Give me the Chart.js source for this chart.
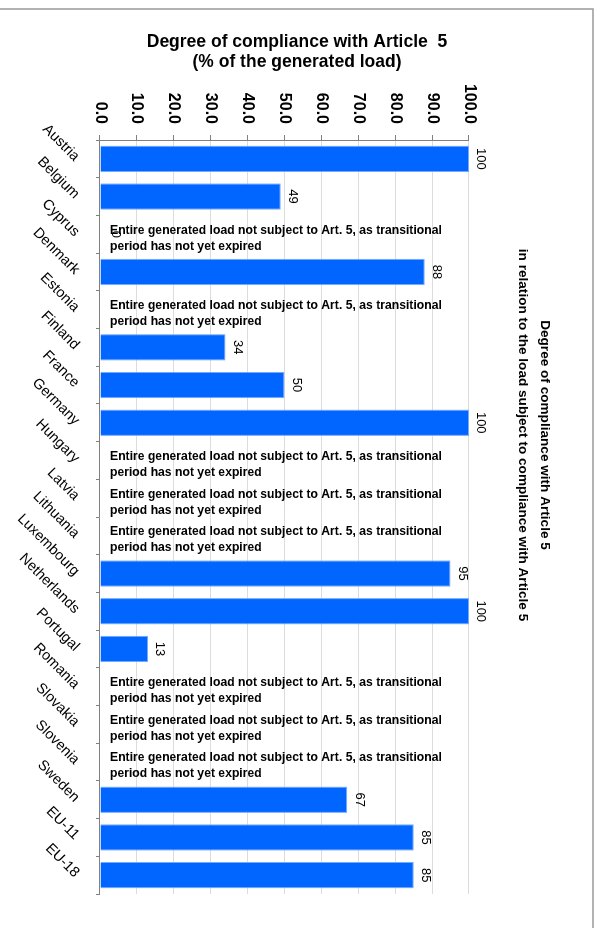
<!DOCTYPE html>
<html>
<head>
<meta charset="utf-8">
<title>Degree of compliance with Article 5</title>
<script src="https://cdn.jsdelivr.net/npm/chart.js@4.4.1/dist/chart.umd.min.js"></script>
<style>
  html, body { margin: 0; padding: 0; background: #fff; }
  body { width: 602px; height: 928px; overflow: hidden; position: relative; }
  /* chart is drawn landscape, then turned a quarter clockwise */
  #wrap {
    position: absolute; left: 0; top: 0;
    width: 928px; height: 602px;
    transform-origin: 0 0;
    transform: translate(602px, 0) rotate(90deg);
  }
</style>
</head>
<body>
<div id="wrap"><canvas id="complianceChart" width="928" height="602"></canvas></div>
<script>
// DATA
const categories = ["Austria", "Belgium", "Cyprus", "Denmark", "Estonia", "Finland", "France",
  "Germany", "Hungary", "Latvia", "Lithuania", "Luxembourg", "Netherlands", "Portugal",
  "Romania", "Slovakia", "Slovenia", "Sweden", "EU-11", "EU-18"];
const compliance = [100, 49, 0, 88, null, 34, 50, 100, null, null, null, 95, 100, 13,
  null, null, null, 67, 85, 85];
const transitional = ["Cyprus", "Estonia", "Hungary", "Latvia", "Lithuania", "Romania", "Slovakia", "Slovenia"];
const noteLines = ["Entire generated load not subject to Art. 5, as transitional", "period has not yet expired"];
const chartTitle = ["Degree of compliance with Article 5", "in relation to the load subject to compliance with Article 5"];
const axisTitle = ["Degree of compliance with Article  5", "(% of the generated load)"];

const FONT = "'Liberation Sans', Arial, sans-serif";
Chart.defaults.font.family = FONT;
Chart.defaults.color = "#000";

// FRAME, TITLES, VALUE LABELS, NOTES
const extras = {
  id: "extras",
  afterDraw(chart) {
    const ctx = chart.ctx;
    const x = chart.scales.x;
    const y = chart.scales.y;
    ctx.save();

    // frame
    ctx.strokeStyle = "#999";
    ctx.lineWidth = 1.5;
    ctx.beginPath();
    ctx.moveTo(9, 602);
    ctx.lineTo(9, 9);
    ctx.lineTo(928, 9);
    ctx.stroke();

    ctx.fillStyle = "#000";
    ctx.textAlign = "center";
    ctx.textBaseline = "middle";

    // chart title
    ctx.font = "bold 13.6px " + FONT;
    ctx.fillText(chartTitle[0], 435, 57);
    ctx.fillText(chartTitle[1], 435, 79);

    // value axis title
    ctx.save();
    ctx.translate(0, 305);
    ctx.rotate(-Math.PI / 2);
    ctx.font = "bold 17.5px " + FONT;
    ctx.fillText(axisTitle[0], 0, 42);
    ctx.fillText(axisTitle[1], 0, 62);
    ctx.restore();

    // value labels
    const meta = chart.getDatasetMeta(0);
    ctx.font = "13px " + FONT;
    compliance.forEach(function (v, i) {
      if (v === null) return;
      const bar = meta.data[i];
      const off = v === 0 ? 16 : 12;
      ctx.fillText(String(v), bar.x, bar.y - off);
    });

    // transitional period notes
    ctx.font = "bold 12.2px " + FONT;
    ctx.textAlign = "left";
    const base = y.getPixelForValue(0);
    transitional.forEach(function (name) {
      const cx = x.getPixelForValue(categories.indexOf(name));
      ctx.save();
      ctx.translate(cx, base - 10);
      ctx.rotate(-Math.PI / 2);
      ctx.fillText(noteLines[0], 0, -4);
      ctx.fillText(noteLines[1], 0, 12);
      ctx.restore();
    });

    ctx.restore();
  }
};

const ctx = document.getElementById("complianceChart").getContext("2d");

new Chart(ctx, {
  type: "bar",
  data: {
    labels: categories,
    datasets: [{
      data: compliance,
      backgroundColor: "#0066ff",
      borderColor: "#74a9ff",
      borderWidth: 1,
      categoryPercentage: 1,
      barPercentage: 0.7
    }]
  },
  options: {
    responsive: false,
    animation: false,
    devicePixelRatio: 1,
    layout: { padding: { left: 0, right: 34, top: 133, bottom: 0 } },
    plugins: {
      legend: { display: false },
      title: { display: false },
      tooltip: { enabled: false }
    },
    scales: {
      x: {
        afterFit: function (scale) { scale.height = 100; },
        grid: { drawOnChartArea: false, tickLength: 4, tickColor: "#808080" },
        border: { color: "#808080", width: 1 },
        ticks: {
          autoSkip: false,
          maxRotation: 45,
          minRotation: 45,
          padding: 13,
          font: { size: 14.5 }
        }
      },
      y: {
        min: 0,
        max: 100,
        afterFit: function (scale) { scale.width = 140; },
        grid: { color: "#dcdcdc", tickLength: 5, tickColor: "#808080" },
        border: { color: "#808080", width: 1 },
        ticks: {
          stepSize: 10,
          padding: 11,
          font: { size: 16, weight: "bold" },
          callback: function (v) { return v.toFixed(1); }
        }
      }
    }
  },
  plugins: [extras]
});
</script>
</body>
</html>
